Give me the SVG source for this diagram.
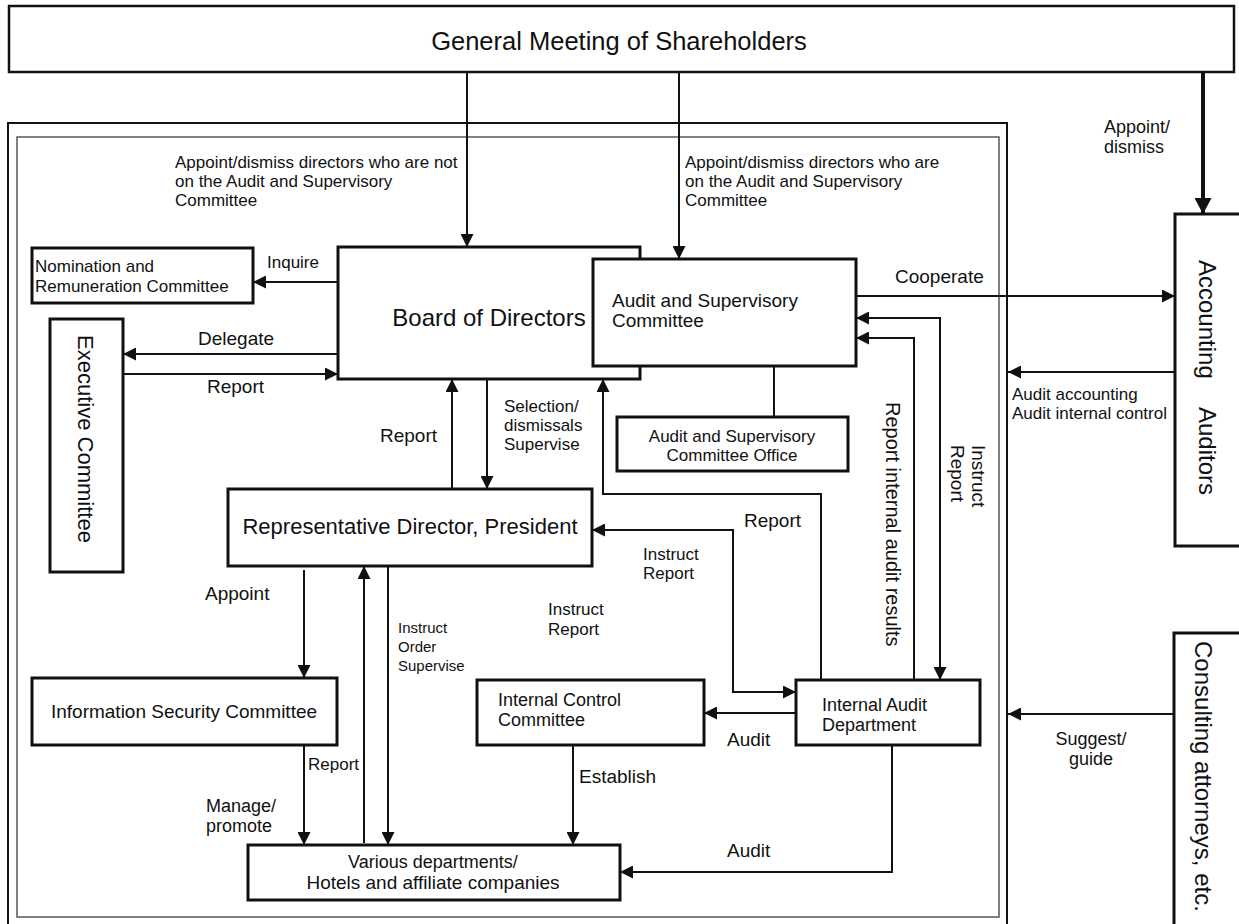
<svg xmlns="http://www.w3.org/2000/svg" width="1239" height="924" viewBox="0 0 1239 924">
<style>
text{font-family:"Liberation Sans",Arial,sans-serif;fill:#111}
.box{fill:#fff;stroke:#111;stroke-width:3}
.c{fill:none;stroke:#111;stroke-width:2}
.l17{font-size:17px}
.l18{font-size:18px}
.l19{font-size:19px}
.mid{text-anchor:middle}
</style>
<defs>
<marker id="arr" markerUnits="userSpaceOnUse" markerWidth="13" markerHeight="13" refX="13" refY="6.5" orient="auto-start-reverse" viewBox="0 0 13 13">
<path d="M0,0 L13,6.5 L0,13 z" fill="#111"/>
</marker>
<marker id="arrL" markerUnits="userSpaceOnUse" markerWidth="17" markerHeight="17" refX="16" refY="8.5" orient="auto" viewBox="0 0 17 17">
<path d="M0,0 L16,8.5 L0,17 z" fill="#111"/>
</marker>
</defs>
<rect width="1239" height="924" fill="#fff"/>

<g id="frame">
<rect x="8" y="123" width="999" height="830" fill="none" stroke="#111" stroke-width="2"/>
<rect x="17" y="137" width="982" height="780" fill="none" stroke="#555" stroke-width="1.5"/>
</g>

<g id="general-meeting">
<rect x="9" y="6" width="1225" height="66" fill="#fff" stroke="#111" stroke-width="2.5"/>
<text x="619" y="50" class="mid" font-size="25.5">General Meeting of Shareholders</text>
</g>

<g id="connectors">
<path class="c" d="M467,72 V247" marker-end="url(#arr)"/>
<path class="c" d="M679,72 V259" marker-end="url(#arr)"/>
<path d="M1203,72 V214" fill="none" stroke="#111" stroke-width="4" marker-end="url(#arrL)"/>
<path class="c" d="M338,282 H253" marker-end="url(#arr)"/>
<path class="c" d="M338,354 H123" marker-end="url(#arr)"/>
<path class="c" d="M123,374 H338" marker-end="url(#arr)"/>
<path class="c" d="M452,489 V379" marker-end="url(#arr)"/>
<path class="c" d="M487,379 V489" marker-end="url(#arr)"/>
<path class="c" d="M821,680 V494 H603 V379" marker-end="url(#arr)"/>
<path class="c" d="M592,530 H733 V692 H796" marker-start="url(#arr)" marker-end="url(#arr)"/>
<path class="c" d="M796,713 H704" marker-end="url(#arr)"/>
<path class="c" d="M892,745 V872 H620" marker-end="url(#arr)"/>
<path class="c" d="M573,745 V845" marker-end="url(#arr)"/>
<path class="c" d="M304,570 V678" marker-end="url(#arr)"/>
<path class="c" d="M364,843 V566" marker-end="url(#arr)"/>
<path class="c" d="M388,566 V845" marker-end="url(#arr)"/>
<path class="c" d="M304,745 V845" marker-end="url(#arr)"/>
<path class="c" d="M856,296 H1175" marker-end="url(#arr)"/>
<path class="c" d="M1175,372 H1008" marker-end="url(#arr)"/>
<path class="c" d="M1173,714 H1008" marker-end="url(#arr)"/>
<path class="c" d="M914,680 V338 H856" marker-end="url(#arr)"/>
<path class="c" d="M856,318 H940 V680" marker-start="url(#arr)" marker-end="url(#arr)"/>
<path class="c" d="M774,366 V417"/>
</g>

<g id="edge-labels">
<text class="l17" x="175" y="168">Appoint/dismiss directors who are not</text>
<text class="l17" x="175" y="187">on the Audit and Supervisory</text>
<text class="l17" x="175" y="206">Committee</text>
<text class="l17" x="685" y="168">Appoint/dismiss directors who are</text>
<text class="l17" x="685" y="187">on the Audit and Supervisory</text>
<text class="l17" x="685" y="206">Committee</text>
<text class="l18" x="1104" y="133">Appoint/</text>
<text class="l18" x="1104" y="153">dismiss</text>
<text class="l17" x="267" y="268">Inquire</text>
<text class="l19" x="198" y="345">Delegate</text>
<text class="l19" x="207" y="393">Report</text>
<text class="l19" x="380" y="442">Report</text>
<text class="l17" x="504" y="412">Selection/</text>
<text class="l17" x="504" y="431">dismissals</text>
<text class="l17" x="504" y="450">Supervise</text>
<text class="l19" x="744" y="527">Report</text>
<text class="l17" x="643" y="560">Instruct</text>
<text class="l17" x="643" y="579">Report</text>
<text class="l17" x="548" y="615">Instruct</text>
<text class="l17" x="548" y="635">Report</text>
<text class="l19" x="205" y="600">Appoint</text>
<text font-size="15" x="398" y="633">Instruct</text>
<text font-size="15" x="398" y="652">Order</text>
<text font-size="15" x="398" y="671">Supervise</text>
<text class="l17" x="308" y="770">Report</text>
<text class="l18" x="206" y="812">Manage/</text>
<text class="l18" x="206" y="832">promote</text>
<text class="l19" x="579" y="783">Establish</text>
<text class="l19" x="727" y="746">Audit</text>
<text class="l19" x="727" y="857">Audit</text>
<text class="l19" x="895" y="283">Cooperate</text>
<text class="l17" x="1012" y="400">Audit accounting</text>
<text class="l17" x="1012" y="419">Audit internal control</text>
<text class="l18 mid" x="1091" y="745">Suggest/</text>
<text class="l18 mid" x="1091" y="765">guide</text>
<text font-size="20" transform="translate(886,402) rotate(90)">Report internal audit results</text>
<text font-size="19" transform="translate(972,445) rotate(90)"><tspan x="0" y="0">Instruct</tspan><tspan x="0" y="21">Report</tspan></text>
</g>

<g id="board">
<rect class="box" x="338" y="247" width="302" height="132"/>
<text x="489" y="326" class="mid" font-size="24">Board of Directors</text>
</g>

<g id="audit-committee">
<rect class="box" x="593" y="259" width="263" height="107"/>
<text x="612" y="307" font-size="19">Audit and Supervisory</text>
<text x="612" y="327" font-size="19">Committee</text>
</g>

<g id="audit-committee-office">
<rect class="box" x="617" y="417" width="231" height="54"/>
<text x="732" y="442" class="mid l17">Audit and Supervisory</text>
<text x="732" y="461" class="mid l17">Committee Office</text>
</g>

<g id="nomination">
<rect class="box" x="32" y="248" width="221" height="55"/>
<text x="35" y="272" class="l17">Nomination and</text>
<text x="35" y="292" class="l17">Remuneration Committee</text>
</g>

<g id="executive">
<rect class="box" x="50" y="319" width="73" height="253"/>
<text font-size="22" class="mid" transform="translate(78,439) rotate(90)">Executive Committee</text>
</g>

<g id="president">
<rect class="box" x="228" y="489" width="364" height="77"/>
<text x="410" y="534" class="mid" font-size="22">Representative Director, President</text>
</g>

<g id="info-security">
<rect class="box" x="32" y="678" width="305" height="67"/>
<text x="184" y="718" class="mid l19">Information Security Committee</text>
</g>

<g id="internal-control">
<rect class="box" x="477" y="680" width="227" height="65"/>
<text x="498" y="706" class="l18">Internal Control</text>
<text x="498" y="726" class="l18">Committee</text>
</g>

<g id="internal-audit">
<rect class="box" x="796" y="680" width="184" height="65"/>
<text x="822" y="711" class="l18">Internal Audit</text>
<text x="822" y="731" class="l18">Department</text>
</g>

<g id="various">
<rect class="box" x="248" y="845" width="372" height="55"/>
<text x="433" y="868" class="mid l18">Various departments/</text>
<text x="433" y="889" class="mid l19">Hotels and affiliate companies</text>
</g>

<g id="accounting-auditors">
<rect class="box" x="1175" y="214" width="75" height="332"/>
<text font-size="24" transform="translate(1199,260) rotate(90)"><tspan x="0">Accounting</tspan><tspan x="147">Auditors</tspan></text>
</g>

<g id="consulting">
<rect class="box" x="1174" y="633" width="75" height="320"/>
<text font-size="24" transform="translate(1195,641) rotate(90)">Consulting attorneys, etc.</text>
</g>
</svg>
